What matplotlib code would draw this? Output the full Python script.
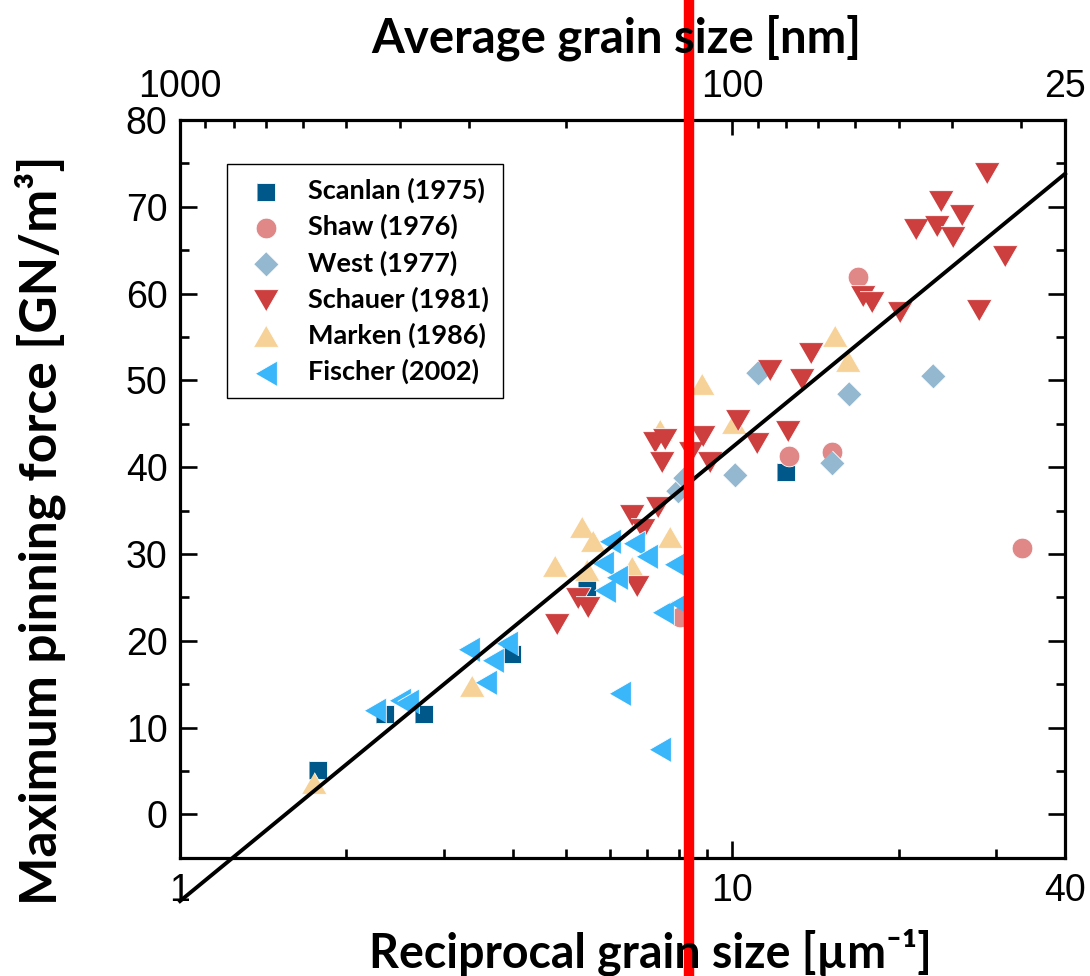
import numpy as np
import matplotlib
matplotlib.use("Agg")
import matplotlib.pyplot as plt

# values: reciprocal grain size [1/um], max pinning force [GN/m^3]
scanlan_x = [1.78, 2.35, 2.76, 3.99, 5.45, 12.5]
scanlan_y = [5.1, 11.5, 11.5, 18.5, 26.2, 39.4]

shaw_x = [8.03, 12.66, 15.17, 16.86, 33.4]
shaw_y = [22.7, 41.3, 41.7, 61.9, 30.7]

west_x = [7.98, 8.21, 10.09, 11.11, 15.17, 16.26, 23.04]
west_y = [37.2, 38.8, 39.1, 50.8, 40.5, 48.4, 50.5]

schauer_x = [4.82, 5.26, 5.47, 6.57, 6.71, 6.9, 7.34, 7.24, 7.55, 7.45,
             8.4, 8.86, 9.11, 10.22, 11.1, 11.71, 12.63, 13.35, 13.9, 17.26,
             17.92, 20.11, 21.5, 23.5, 23.86, 25.05, 26.02, 27.99, 28.94, 31.1]
schauer_y = [21.9, 24.9, 23.9, 34.5, 26.3, 32.9, 35.4, 42.9, 43.3, 40.6,
             41.8, 43.6, 40.6, 45.4, 42.8, 51.2, 44.2, 50.2, 53.2, 59.7,
             59.0, 57.9, 67.4, 67.8, 70.7, 66.5, 69.0, 58.1, 73.9, 64.3]

marken_x = [1.75, 3.38, 4.77, 5.34, 5.59, 5.45, 6.57, 7.71, 7.39, 8.8, 10.06, 15.34, 16.21]
marken_y = [3.6, 14.8, 28.6, 33.1, 31.5, 28.1, 28.5, 32.0, 44.3, 49.6, 45.1, 55.1, 52.2]

fischer_x = [2.25, 2.50, 2.59, 3.33, 3.58, 3.69, 3.90, 5.84, 5.88, 6.0,
             6.17, 6.26, 6.64, 7.0, 7.39, 7.5, 7.87, 8.03]
fischer_y = [12.0, 13.2, 13.0, 19.1, 15.2, 17.8, 19.7, 29.0, 25.9, 31.5,
             27.3, 14.0, 31.3, 29.8, 7.5, 23.3, 28.8, 24.3]

fit_x = [1.0, 40.0]
fit_y = [-10.0, 73.8]

cutoff_nm = 120

bottom_ticks = [1, 10, 40]
bottom_minor = [2, 3, 4, 5, 6, 7, 8, 9, 20, 30]
top_labels_nm = [1000, 100, 25]
top_minor_nm = [900, 800, 700, 600, 500, 400, 300, 200, 90, 80, 70, 60, 50, 40, 30]

# marker shapes
SQUARE = [(-1, -1), (1, -1), (1, 1), (-1, 1)]
DIAMOND = [(0, 1), (1, 0), (0, -1), (-1, 0)]
TRI_UP = [(-1, -0.866), (1, -0.866), (0, 0.866)]
TRI_DOWN = [(-1, 0.866), (1, 0.866), (0, -0.866)]
TRI_LEFT = [(-0.866, 0), (0.866, 1), (0.866, -1)]

series = [
    ("Scanlan (1975)", scanlan_x, scanlan_y, SQUARE, 13.2, "#00578A", 3.0),
    ("Shaw (1976)", shaw_x, shaw_y, "o", 14.9, "#E08888", 3.1),
    ("West (1977)", west_x, west_y, DIAMOND, 18, "#94B8D0", 3.2),
    ("Schauer (1981)", schauer_x, schauer_y, TRI_DOWN, 18, "#CD3F3F", 3.4),
    ("Marken (1986)", marken_x, marken_y, TRI_UP, 18, "#F7D298", 3.3),
    ("Fischer (2002)", fischer_x, fischer_y, TRI_LEFT, 18, "#3AB6FB", 3.5),
]

tick_font = "Liberation Sans"
label_family = ["Lato", "DejaVu Sans"]

fig = plt.figure(figsize=(10.9, 9.76), dpi=100)
ax = fig.add_axes([0.16514, 0.12121, 0.81193, 0.75584])

for name, xs, ys, mk, ms, col, z in series:
    ax.scatter(xs, ys, marker=mk, s=ms ** 2, color=col, edgecolors="white",
               linewidths=0.6, label=name, zorder=z)

ax.plot(fit_x, fit_y, color="black", lw=2.8, zorder=5, clip_on=False)

ax.set_xscale("log")
ax.set_xlim(1, 40)
ax.set_ylim(-5, 80)

ax.set_xticks(bottom_ticks)
ax.set_xticklabels([str(t) for t in bottom_ticks])
ax.set_xticks(bottom_minor, minor=True)
ax.set_xticklabels([], minor=True)
ax.set_yticks(np.arange(0, 81, 10))
ax.set_yticks(np.arange(-5, 81, 10), minor=True)

for s in ax.spines.values():
    s.set_linewidth(2.3)

ax.tick_params(which="both", direction="in", width=1.9, right=True)
ax.tick_params(which="major", length=12)
ax.tick_params(which="minor", length=6.5)
ax.tick_params(axis="x", which="both", top=False, pad=11)
ax.tick_params(axis="y", pad=9)
for lab in ax.get_xticklabels() + ax.get_yticklabels():
    lab.set_fontfamily(tick_font)
    lab.set_fontsize(27)

# top axis: average grain size [nm] = 1000 / reciprocal size
ax2 = ax.twiny()
ax2.set_xscale("log")
ax2.set_xlim(ax.get_xlim())
ax2.set_xticks([1000 / d for d in top_labels_nm])
ax2.set_xticklabels([str(d) for d in top_labels_nm])
ax2.set_xticks([1000 / d for d in top_minor_nm], minor=True)
ax2.set_xticklabels([], minor=True)
ax2.tick_params(which="both", direction="in", width=1.9, pad=11)
ax2.tick_params(which="major", length=11)
ax2.tick_params(which="minor", length=6)
for lab in ax2.get_xticklabels():
    lab.set_fontfamily(tick_font)
    lab.set_fontsize(27)
for s in ax2.spines.values():
    s.set_visible(False)

# red marker line at 120 nm, spans the whole figure height
ax2.axvline(1000 / cutoff_nm, ymin=-0.2, ymax=1.2, color="#FF0000", lw=7.5,
            clip_on=False, zorder=10)

leg = ax.legend(loc="upper left", bbox_to_anchor=(0.053, 0.940), borderaxespad=0,
                prop=dict(family=label_family, weight="bold", size=19.5),
                fancybox=False, edgecolor="black", framealpha=1,
                borderpad=0.5, handlelength=1.9, handletextpad=0.6,
                labelspacing=0.40, scatterpoints=1)
leg.get_frame().set_linewidth(1.0)

fig.text(616 / 1090, 0.9457, "Average grain size [nm]", ha="center", va="baseline",
         family=label_family, weight="bold", fontsize=34)
fig.text(650 / 1090, 0.0092, "Reciprocal grain size [µm⁻¹]", ha="center",
         va="baseline", family=label_family, weight="bold", fontsize=33.5)
fig.text(57 / 1090, 0.457, "Maximum pinning force [GN/m³]", rotation=90,
         rotation_mode="anchor", ha="center", va="baseline",
         family=label_family, weight="bold", fontsize=37)

fig.savefig("out.png", dpi=100)
